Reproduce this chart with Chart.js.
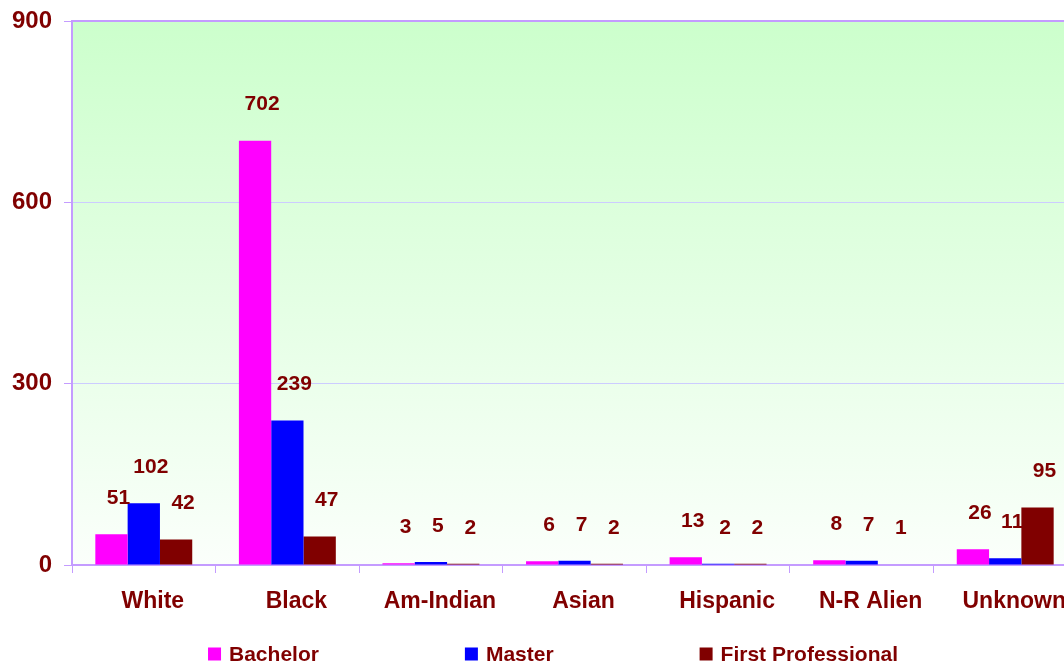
<!DOCTYPE html>
<html>
<head>
<meta charset="utf-8">
<script src="https://cdn.jsdelivr.net/npm/chart.js@4/dist/chart.umd.min.js"></script>
<style>
  html, body { margin: 0; padding: 0; background: #ffffff; overflow: hidden; }
  #wrap { width: 1077px; height: 667px; }
</style>
</head>
<body>
<div id="wrap"><canvas id="degreesChart"></canvas></div>
<script>
// Chart data
const categories = ["White", "Black", "Am-Indian", "Asian", "Hispanic", "N-R Alien", "Unknown"];
const bachelor = [51, 702, 3, 6, 13, 8, 26];
const master = [102, 239, 5, 7, 2, 7, 11];
const firstProfessional = [42, 47, 2, 2, 2, 1, 95];
const yTicks = [0, 300, 600, 900];

const darkRed = "#800000";
const lavender = "#c49cff";
const gridLavender = "#ccccff";
const fontFamily = "'Liberation Sans', Arial, sans-serif";

// Green-to-white gradient behind the bars
const plotBackground = {
  id: "plotBackground",
  beforeDraw(chart) {
    const { ctx, chartArea } = chart;
    const g = ctx.createLinearGradient(0, chartArea.top, 0, chartArea.bottom);
    g.addColorStop(0, "#ccffcc");
    g.addColorStop(1, "#fbfffb");
    ctx.save();
    ctx.fillStyle = g;
    ctx.fillRect(chartArea.left, chartArea.top, chartArea.right - chartArea.left, chartArea.bottom - chartArea.top);
    ctx.restore();
  },
  afterDraw(chart) {
    // lavender frame line along the top of the plot
    const { ctx, chartArea } = chart;
    ctx.save();
    ctx.strokeStyle = lavender;
    ctx.lineWidth = 2;
    ctx.beginPath();
    ctx.moveTo(chartArea.left, chartArea.top);
    ctx.lineTo(chartArea.right, chartArea.top);
    ctx.stroke();
    ctx.restore();
  },
};

// Value labels above each bar
const valueLabels = {
  id: "valueLabels",
  afterDatasetsDraw(chart) {
    const { ctx } = chart;
    ctx.save();
    ctx.font = "bold 21px " + fontFamily;
    ctx.fillStyle = darkRed;
    ctx.textAlign = "center";
    ctx.textBaseline = "middle";
    chart.data.datasets.forEach((ds, i) => {
      chart.getDatasetMeta(i).data.forEach((bar, j) => {
        ctx.fillText(String(ds.data[j]), bar.x + 7, bar.y - 36);
      });
    });
    ctx.restore();
  },
};

// Legend along the bottom with wide gaps (built-in legend pads vertically too)
const bottomLegend = {
  id: "bottomLegend",
  afterDraw(chart) {
    const { ctx } = chart;
    const box = 13, gap = 146;
    ctx.save();
    ctx.font = "bold 21px " + fontFamily;
    ctx.textBaseline = "middle";
    const items = chart.data.datasets.map((ds) => ({
      text: ds.label,
      color: ds.backgroundColor,
      w: box + 8 + ctx.measureText(ds.label).width,
    }));
    const total = items.reduce((s, it) => s + it.w, 0) + gap * (items.length - 1);
    let x = 553 - total / 2;
    const y = chart.height - 13;
    items.forEach((it) => {
      ctx.fillStyle = it.color;
      ctx.fillRect(x, y - box / 2, box, box);
      ctx.fillStyle = darkRed;
      ctx.fillText(it.text, x + box + 8, y + 1);
      x += it.w + gap;
    });
    ctx.restore();
  },
};

const ctx = document.getElementById("degreesChart").getContext("2d");
new Chart(ctx, {
  type: "bar",
  data: {
    labels: categories,
    datasets: [
      { label: "Bachelor", data: bachelor, backgroundColor: "#ff00ff" },
      { label: "Master", data: master, backgroundColor: "#0000ff" },
      { label: "First Professional", data: firstProfessional, backgroundColor: darkRed },
    ],
  },
  options: {
    responsive: true,
    maintainAspectRatio: false,
    animation: false,
    layout: { padding: { top: 21, right: 0, left: 0, bottom: 40 } },
    datasets: { bar: { barPercentage: 1, categoryPercentage: 0.675 } },
    plugins: {
      tooltip: { enabled: false },
      legend: { display: false },
    },
    scales: {
      x: {
        border: { color: lavender, width: 2 },
        grid: { display: true, drawOnChartArea: false, color: lavender, tickLength: 8, offset: true },
        ticks: {
          color: darkRed,
          font: { family: fontFamily, size: 23, weight: "bold" },
          padding: 15,
          labelOffset: 9,
          maxRotation: 0,
        },
        afterFit: (s) => { s.height = 62; },
      },
      y: {
        min: 0,
        max: 900,
        border: { color: lavender, width: 2 },
        grid: { color: gridLavender, tickColor: lavender, tickLength: 8 },
        afterBuildTicks: (s) => { s.ticks = yTicks.map((v) => ({ value: v })); },
        ticks: {
          color: darkRed,
          font: { family: fontFamily, size: 24, weight: "bold" },
          padding: 12,
        },
        afterFit: (s) => { s.width = 72; s.paddingTop = 0; s.paddingBottom = 0; },
      },
    },
  },
  plugins: [plotBackground, valueLabels, bottomLegend],
});
</script>
</body>
</html>
